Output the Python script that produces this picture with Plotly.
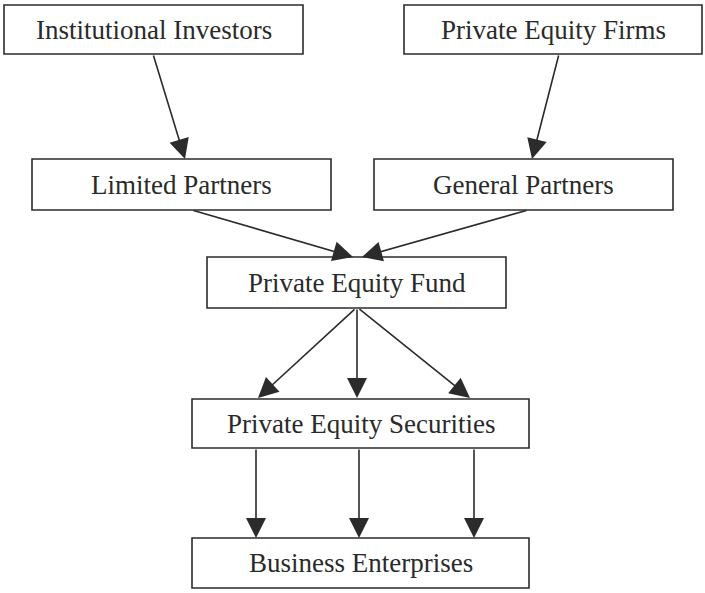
import plotly.graph_objects as go

# nodes of the flow diagram (pixel frame of the original figure, y grows down)
NODE_LABELS = ["Institutional Investors", "Private Equity Firms", "Limited Partners",
               "General Partners", "Private Equity Fund", "Private Equity Securities",
               "Business Enterprises"]
NODE_X0 = [4, 404, 32, 374, 207, 192, 192]
NODE_X1 = [303, 702, 331, 673, 506, 529, 529]
NODE_Y0 = [5, 5, 159, 159, 257, 399, 538]
NODE_Y1 = [54, 54, 210, 210, 308, 448, 588]

# edges: tail point -> head point
EDGE_FROM_X = [153, 559, 192, 528, 356, 357, 358, 256, 359, 474]
EDGE_FROM_Y = [54, 54, 210, 210, 308, 308, 308, 448, 448, 448]
EDGE_TO_X = [185, 532, 353, 362, 258, 357, 470, 256, 359, 474]
EDGE_TO_Y = [159, 159, 257, 257, 398, 398, 398, 538, 538, 538]

LINE = "#2b2b2b"
TEXT = "#2a2a2a"

fig = go.Figure()
fig.add_trace(go.Scatter(x=[0, 705], y=[0, 593], mode="markers", marker={"opacity": 0}, hoverinfo="skip", showlegend=False))

for label, x0, x1, y0, y1 in zip(NODE_LABELS, NODE_X0, NODE_X1, NODE_Y0, NODE_Y1):
    fig.add_shape(type="rect", x0=x0, x1=x1, y0=y0, y1=y1, xref="x", yref="y",
                  line={"color": LINE, "width": 1.6}, fillcolor="white")
    fig.add_annotation(x=(x0 + x1) / 2, y=(y0 + y1) / 2, text=label, showarrow=False,
                       font={"family": "Liberation Serif, Times New Roman, serif", "size": 27, "color": TEXT})

for fx, fy, tx, ty in zip(EDGE_FROM_X, EDGE_FROM_Y, EDGE_TO_X, EDGE_TO_Y):
    fig.add_annotation(x=tx, y=ty, ax=fx, ay=fy, xref="x", yref="y", axref="x", ayref="y",
                       text="", showarrow=True, arrowhead=2, arrowsize=2.5, arrowwidth=1.6,
                       arrowcolor=LINE, standoff=0)

fig.update_layout(width=705, height=593, margin={"l": 0, "r": 0, "t": 0, "b": 0},
                  paper_bgcolor="white", plot_bgcolor="white", showlegend=False)
fig.update_xaxes(range=[0, 705], visible=False, fixedrange=True)
fig.update_yaxes(range=[593, 0], visible=False, fixedrange=True)
# page body has a default 8px margin; drop it so the diagram sits flush
fig.write_html("out.html", config={"displayModeBar": False},
               post_script="document.body.style.margin = '0';")
